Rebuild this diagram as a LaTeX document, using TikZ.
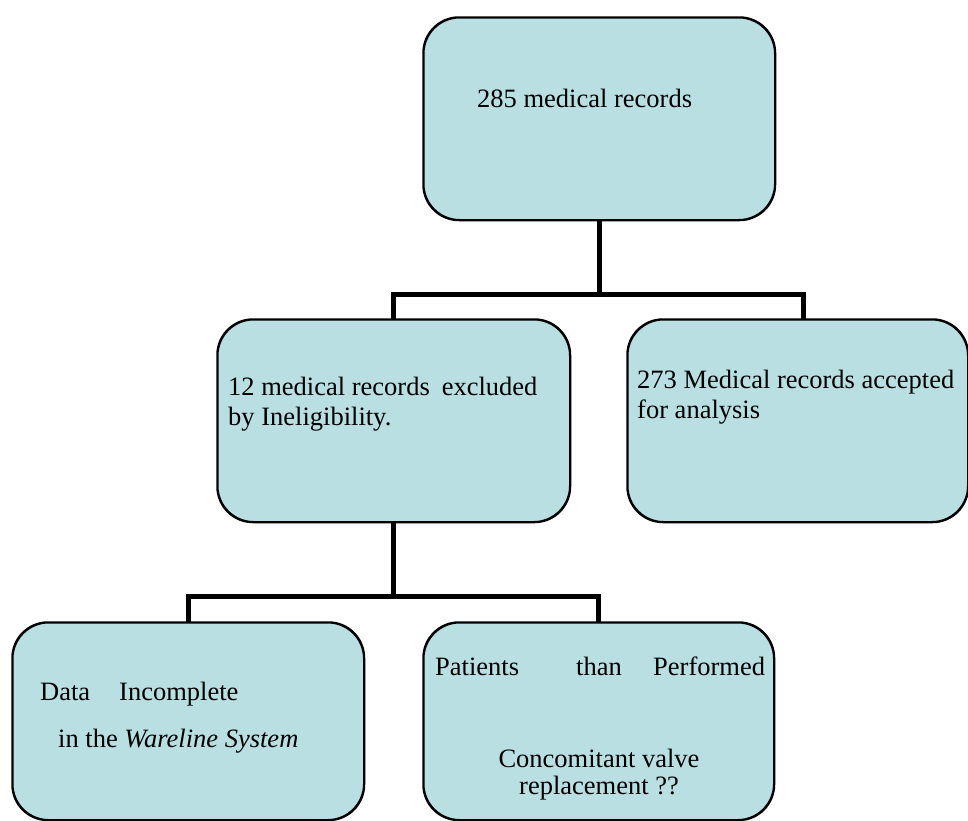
\documentclass[tikz,border=0pt]{standalone}
\usepackage{fontspec}
\setmainfont{Liberation Serif}
\usetikzlibrary{calc}
\definecolor{boxfill}{RGB}{185,223,226}
\tikzset{
  box/.style={draw=black, line width=1.5pt, fill=boxfill, rounded corners=36pt, inner sep=0pt, anchor=north west},
  outline/.style={draw=black, line width=1.5pt, rounded corners=36pt},
  conn/.style={draw=black, line width=5pt, line join=miter, line cap=butt},
  txt/.style={inner sep=0pt, anchor=base west, font=\fontsize{26.5}{30}\selectfont},
  ctxt/.style={inner sep=0pt, anchor=base, font=\fontsize{26.5}{30}\selectfont}
}
\begin{document}
\begin{tikzpicture}[x=1pt, y=-1pt]
\useasboundingbox (0,0) rectangle (968,820);
\node[box, minimum width=351pt, minimum height=202pt] (top) at (423,17) {};
\node[box, minimum width=352pt, minimum height=202pt] (midL) at (217,319) {};
\node[box, minimum width=340pt, minimum height=202pt] (midR) at (627,319) {};
\node[box, minimum width=351pt, minimum height=197pt] (botL) at (12,622) {};
\node[box, minimum width=350pt, minimum height=197pt] (botR) at (423,622) {};
\coordinate (j1) at ($(top.south)+(0,74)$);
\coordinate (j2) at ($(midL.south)+(0,74)$);
\coordinate (midRin) at ($(midR.north)+(6,0)$);
\draw[conn] (top.south) -- (j1);
\draw[conn] (midL.north) |- (j1) -| (midRin);
\draw[conn] (midL.south) -- (j2);
\draw[conn] (botL.north) |- (j2) -| (botR.north);
% box outlines over connector ends
\draw[outline] (top.north west) rectangle (top.south east);
\draw[outline] (midL.north west) rectangle (midL.south east);
\draw[outline] (midR.north west) rectangle (midR.south east);
\draw[outline] (botL.north west) rectangle (botL.south east);
\draw[outline] (botR.north west) rectangle (botR.south east);
% texts
\node[txt] (t1) at (477,107) {285 medical records};
\node[txt] (t2a) at (228,395) {12 medical records\hspace{12pt}excluded};
\node[txt] (t2b) at (228,425) {by Ineligibility.};
\node[txt] (t3a) at (637,388) {273 Medical records accepted};
\node[txt] (t3b) at (637,418) {for analysis};
\node[txt] (t4a) at (40,700) {Data\hspace{29pt}Incomplete};
\node[txt] (t4b) at (58,747) {in the \textit{Wareline System}};
\node[txt] (t5a) at (435,675) {Patients};
\node[txt] (t5b) at (576,675) {than};
\node[txt] (t5c) at (653,675) {Performed};
\node[ctxt] (t5d) at (599,767) {Concomitant valve};
\node[ctxt] (t5e) at (599,794) {replacement ??};
\end{tikzpicture}
\end{document}
